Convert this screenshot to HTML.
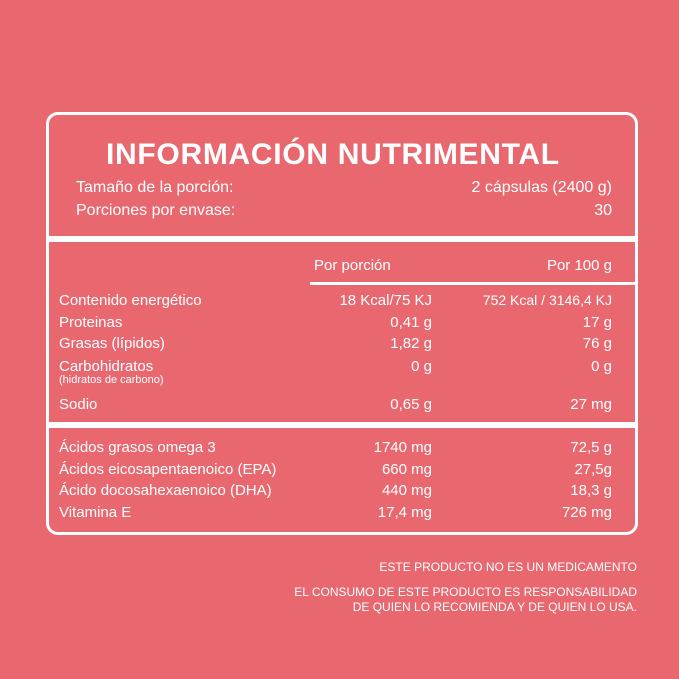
<!DOCTYPE html>
<html><head><style>
body{margin:0;width:679px;height:679px;background:#e96870;font-family:"Liberation Sans",sans-serif;color:#fff;position:relative;overflow:hidden}
.t{position:absolute;white-space:nowrap;line-height:1}
.r{text-align:right}
.box{position:absolute;left:46px;top:112px;width:586px;height:417px;border:3px solid #fff;border-radius:12px}
.bar{position:absolute;background:#fff}
.f16{font-size:16px}
.f15{font-size:15px}
</style></head><body>
<div class="box"></div>
<div class="bar" style="left:47px;top:236px;width:590px;height:6px"></div>
<div class="bar" style="left:310px;top:282px;width:327px;height:3px"></div>
<div class="bar" style="left:47px;top:422px;width:590px;height:6px"></div>
<div class="t" style="left:106px;top:140px;font-size:30px;font-weight:bold;letter-spacing:0.7px">INFORMACIÓN NUTRIMENTAL</div>
<div class="t f16" style="left:76px;top:180px">Tamaño de la porción:</div>
<div class="t f16 r" style="right:67px;top:180px">2 cápsulas (2400 g)</div>
<div class="t f16" style="left:76px;top:203px">Porciones por envase:</div>
<div class="t f16 r" style="right:67px;top:203px">30</div>
<div class="t f15" style="left:314px;top:258px">Por porción</div>
<div class="t f15 r" style="right:67px;top:258px">Por 100 g</div>

<div class="t f15" style="left:59px;top:293px">Contenido energético</div>
<div class="t f15 r" style="right:247px;top:293px">18 Kcal/75 KJ</div>
<div class="t f15 r" style="right:67px;top:293px;font-size:14px">752 Kcal / 3146,4 KJ</div>
<div class="t f15" style="left:59px;top:315px">Proteinas</div>
<div class="t f15 r" style="right:247px;top:315px">0,41 g</div>
<div class="t f15 r" style="right:67px;top:315px">17 g</div>
<div class="t f15" style="left:59px;top:336px">Grasas (lípidos)</div>
<div class="t f15 r" style="right:247px;top:336px">1,82 g</div>
<div class="t f15 r" style="right:67px;top:336px">76 g</div>
<div class="t f15" style="left:59px;top:359px">Carbohidratos</div>
<div class="t" style="left:59px;top:375px;font-size:11px">(hidratos de carbono)</div>
<div class="t f15 r" style="right:247px;top:359px">0 g</div>
<div class="t f15 r" style="right:67px;top:359px">0 g</div>
<div class="t f15" style="left:59px;top:397px">Sodio</div>
<div class="t f15 r" style="right:247px;top:397px">0,65 g</div>
<div class="t f15 r" style="right:67px;top:397px">27 mg</div>

<div class="t f15" style="left:59px;top:440px">Ácidos grasos omega 3</div>
<div class="t f15 r" style="right:247px;top:440px">1740 mg</div>
<div class="t f15 r" style="right:67px;top:440px">72,5 g</div>
<div class="t f15" style="left:59px;top:462px">Ácidos eicosapentaenoico (EPA)</div>
<div class="t f15 r" style="right:247px;top:462px">660 mg</div>
<div class="t f15 r" style="right:67px;top:462px">27,5g</div>
<div class="t f15" style="left:59px;top:483px">Ácido docosahexaenoico (DHA)</div>
<div class="t f15 r" style="right:247px;top:483px">440 mg</div>
<div class="t f15 r" style="right:67px;top:483px">18,3 g</div>
<div class="t f15" style="left:59px;top:505px">Vitamina E</div>
<div class="t f15 r" style="right:247px;top:505px">17,4 mg</div>
<div class="t f15 r" style="right:67px;top:505px">726 mg</div>

<div class="t r" style="right:42px;top:561px;font-size:12px">ESTE PRODUCTO NO ES UN MEDICAMENTO</div>
<div class="t r" style="right:42px;top:586px;font-size:12px">EL CONSUMO DE ESTE PRODUCTO ES RESPONSABILIDAD</div>
<div class="t r" style="right:42px;top:601px;font-size:12px">DE QUIEN LO RECOMIENDA Y DE QUIEN LO USA.</div>
</body></html>
